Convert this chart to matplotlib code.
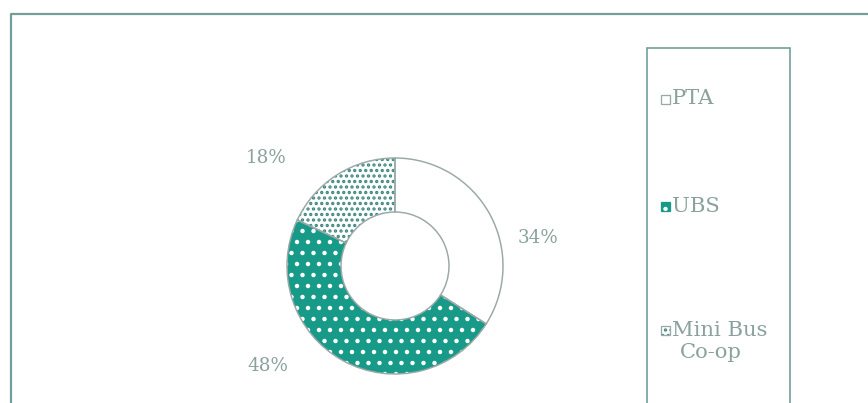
import matplotlib
matplotlib.use("Agg")
import matplotlib.pyplot as plt
from matplotlib.patches import Rectangle

# Share of passengers by operator
operators = ["PTA", "UBS", "Mini Bus\nCo-op"]
shares = [34, 48, 18]
pct_labels = ["34%", "48%", "18%"]

DPI = 132
W, H = 868, 403
TEAL = "#179a88"
FRAME = "#6f9f98"
TEXT = "#8aa19e"
EDGE = "#9aa8a6"

plt.rcParams["hatch.linewidth"] = 1.2
plt.rcParams["font.family"] = ["DejaVu Serif"]

fig = plt.figure(figsize=(W / DPI, H / DPI), dpi=DPI)
fig.patch.set_facecolor("white")
ax = fig.add_axes([0, 0, 1, 1])
ax.set_xlim(0, W)
ax.set_ylim(0, H)
ax.set_aspect("equal")
ax.axis("off")

def py(y):
    # top-down pixel row to data y
    return H - y

center = (395, py(266))
radius = 108
ring = 54

faces = ["white", TEAL, "white"]
hatches = [None, "..", "...."]
hatch_cols = ["white", "white", "#3d8780"]

wedges, _ = ax.pie(shares, startangle=90, counterclock=False, center=center,
                   radius=radius, frame=True,
                   wedgeprops=dict(width=ring, linewidth=0))
for w, fc, h, hc in zip(wedges, faces, hatches, hatch_cols):
    w.set_facecolor(fc)
    w.set_edgecolor(hc)
    if h:
        w.set_hatch(h)

# outlines of the ring
outl, _ = ax.pie(shares, startangle=90, counterclock=False, center=center,
                 radius=radius, frame=True,
                 wedgeprops=dict(width=ring, facecolor="none",
                                 edgecolor=EDGE, linewidth=0.8))
ax.set_xlim(0, W)
ax.set_ylim(0, H)
ax.axis("off")

# percentage labels
label_pos = [(538, 238), (268, 366), (266, 158)]
for (x, y), t in zip(label_pos, pct_labels):
    ax.text(x, py(y), t, ha="center", va="center", fontsize=10,
            color=TEXT, fontweight="light")

# outer frame
ax.plot([11, 11, W + 2], [py(H + 2), py(14), py(14)], color=FRAME, lw=1.2,
        solid_capstyle="butt", clip_on=False)

# legend box
ax.add_patch(Rectangle((647, py(H + 5)), 143, (H + 5) - 48, facecolor="none",
                       edgecolor=FRAME, lw=0.9, clip_on=False))

leg_y = [99, 206, 330]
for (name, fc, h, hc, y) in zip(operators, faces, hatches, hatch_cols, leg_y):
    sq = Rectangle((661, py(y) - 4.5), 9, 9, facecolor=fc, edgecolor=hc,
                   lw=0, hatch=h)
    ax.add_patch(sq)
    ax.add_patch(Rectangle((661, py(y) - 4.5), 9, 9, facecolor="none",
                           edgecolor=EDGE if fc == "white" else TEAL, lw=0.7))
    lines = name.split("\n")
    ax.text(672, py(y), lines[0], ha="left", va="center", fontsize=11.5,
            color=TEXT)
    if len(lines) > 1:
        ax.text(680, py(y + 23), lines[1], ha="left", va="center",
                fontsize=11.5, color=TEXT)

fig.savefig("out.png", dpi=DPI, facecolor="white")
